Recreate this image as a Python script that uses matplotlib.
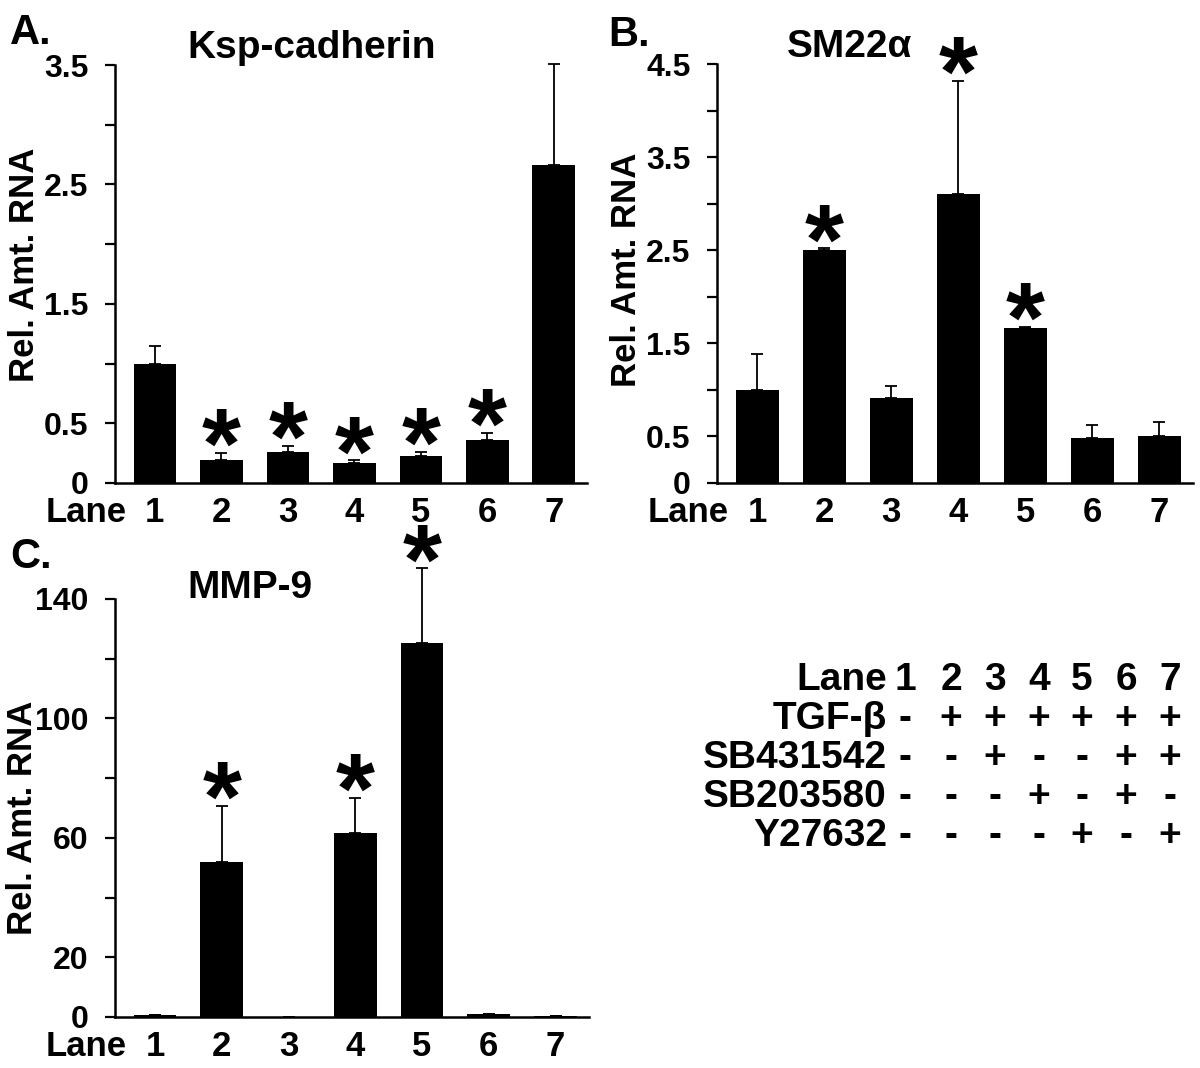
import matplotlib
matplotlib.use('Agg')
import matplotlib.pyplot as plt
import numpy as np

plt.rcParams['font.family'] = ['Liberation Sans', 'DejaVu Sans']
plt.rcParams['font.weight'] = 'bold'

# data
lanes = [1, 2, 3, 4, 5, 6, 7]

ksp_mean = [1.0, 0.19, 0.26, 0.17, 0.23, 0.36, 2.66]
ksp_err = [0.15, 0.06, 0.05, 0.02, 0.03, 0.06, 0.85]
ksp_sig = [0, 1, 1, 1, 1, 1, 0]

sm22_mean = [1.0, 2.50, 0.91, 3.10, 1.66, 0.48, 0.51]
sm22_err = [0.39, 0.02, 0.13, 1.22, 0.02, 0.14, 0.15]
sm22_sig = [0, 1, 0, 1, 1, 0, 0]

mmp9_mean = [0.6, 51.9, 0.1, 61.7, 125.3, 1.1, 0.2]
mmp9_err = [0, 18.8, 0, 11.6, 25.0, 0, 0]
mmp9_sig = [0, 1, 0, 1, 1, 0, 0]

treat_names = ['TGF-β', 'SB431542', 'SB203580', 'Y27632']
treat_table = [
    ['-', '+', '+', '+', '+', '+', '+'],
    ['-', '-', '+', '-', '-', '+', '+'],
    ['-', '-', '-', '+', '-', '+', '-'],
    ['-', '-', '-', '-', '+', '-', '+'],
]

W, H = 1200, 1068
fig = plt.figure(figsize=(W / 100, H / 100), dpi=100)


def px_axes(x0, y0, x1, y1):
    # pixel box (top-left origin) -> figure fraction
    return [x0 / W, 1 - y1 / H, (x1 - x0) / W, (y1 - y0) / H]


def panel(box, means, errs, sig, ymax, step, labeled, title, letter,
          title_xy, letter_xy, ylab_xy):
    ax = fig.add_axes(px_axes(*box))
    ax.bar(lanes, means, width=0.64, color='black', zorder=2)
    ax.errorbar(lanes, means, yerr=[np.zeros(len(errs)), errs], fmt='none',
                ecolor='black', elinewidth=1.3, capsize=4, capthick=1.3,
                clip_on=False, zorder=3)
    for lane, m, e, s in zip(lanes, means, errs, sig):
        if s:
            # the asterisk glyph sits high in the em box, hence the negative offset
            ax.annotate('*', xy=(lane, m + e), xytext=(0, -18),
                        textcoords='offset points', ha='center',
                        va='baseline', fontsize=72, fontweight='bold',
                        annotation_clip=False)
    ax.set_xlim(0.4, 7.5)
    ax.set_ylim(0, ymax)
    ticks = np.arange(0, ymax + step / 2, step)
    ax.set_yticks(ticks)
    ax.set_yticklabels([('%g' % t) if any(abs(t - l) < 1e-9 for l in labeled) else ''
                        for t in ticks])
    ax.set_xticks(lanes)
    ax.set_xticklabels([str(l) for l in lanes])
    for sp in ['top', 'right']:
        ax.spines[sp].set_visible(False)
    for sp in ['left', 'bottom']:
        ax.spines[sp].set_linewidth(1.8)
    ax.tick_params(axis='y', length=7, width=1.6, pad=12, labelsize=23)
    ax.tick_params(axis='x', length=0, pad=9, labelsize=25)
    for lbl in ax.get_xticklabels() + ax.get_yticklabels():
        lbl.set_fontweight('bold')
    ax.annotate('Lane', xy=(0.57, 0), xycoords=('data', 'axes fraction'),
                xytext=(0, -9), textcoords='offset points', ha='right',
                va='top', fontsize=25, fontweight='bold')
    fig.text(title_xy[0] / W, 1 - title_xy[1] / H, title, ha='left',
             va='center', fontsize=28, fontweight='bold')
    fig.text(letter_xy[0] / W, 1 - letter_xy[1] / H, letter, ha='left',
             va='center', fontsize=30, fontweight='bold')
    fig.text(ylab_xy[0] / W, 1 - ylab_xy[1] / H, 'Rel. Amt. RNA',
             rotation=90, ha='center', va='center', fontsize=25,
             fontweight='bold')
    return ax


panel((115, 65, 587, 483), ksp_mean, ksp_err, ksp_sig, 3.5, 0.5,
      [0, 0.5, 1.5, 2.5, 3.5], 'Ksp-cadherin', 'A.',
      (187, 48), (10, 33), (25, 265))
panel((717, 64, 1193, 483), sm22_mean, sm22_err, sm22_sig, 4.5, 0.5,
      [0, 0.5, 1.5, 2.5, 3.5, 4.5], 'SM22α', 'B.',
      (787, 47), (608, 35), (627, 270))
panel((115, 599, 589, 1017), mmp9_mean, mmp9_err, mmp9_sig, 140, 20,
      [0, 20, 60, 100, 140], 'MMP-9', 'C.',
      (187, 588), (10, 557), (23, 818))

# treatment table
col_x = [905, 951, 995, 1039, 1082, 1126, 1170]
row_y = [680, 719, 758, 797, 836]
label_right = 887
fig.text(label_right / W, 1 - row_y[0] / H, 'Lane', ha='right', va='center',
         fontsize=28, fontweight='bold')
for x, l in zip(col_x, lanes):
    fig.text(x / W, 1 - row_y[0] / H, str(l), ha='center', va='center',
             fontsize=28, fontweight='bold')
for name, row, y in zip(treat_names, treat_table, row_y[1:]):
    fig.text(label_right / W, 1 - y / H, name, ha='right', va='center',
             fontsize=28, fontweight='bold')
    for x, sym in zip(col_x, row):
        fig.text(x / W, 1 - y / H, sym, ha='center', va='center',
                 fontsize=28, fontweight='bold')

fig.savefig('out.png', dpi=100)
